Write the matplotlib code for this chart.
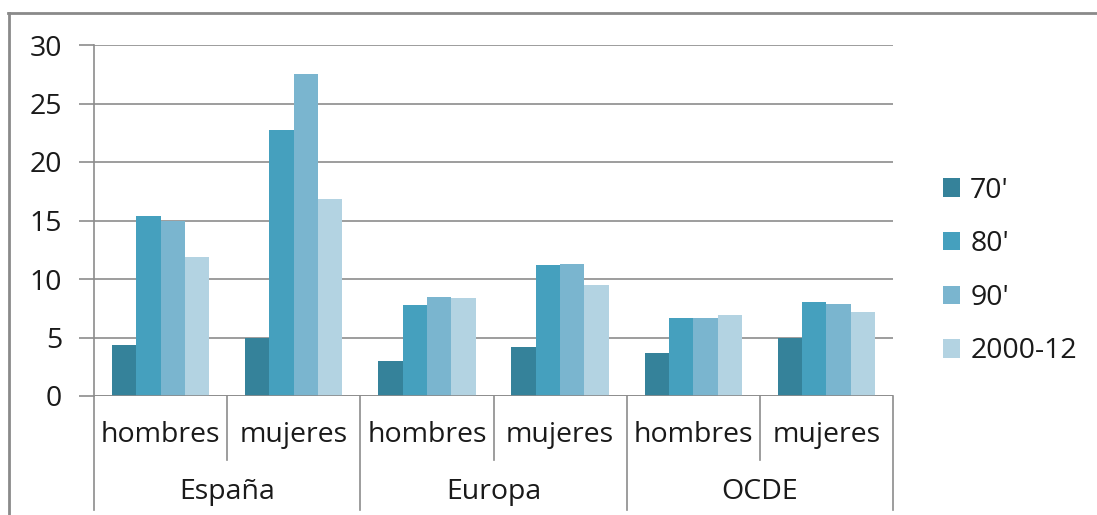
import matplotlib
matplotlib.use("Agg")
from matplotlib import pyplot as plt
from matplotlib.lines import Line2D
import matplotlib.transforms as mtransforms
import numpy as np

plt.rcParams['font.family'] = ['Open Sans', 'DejaVu Sans']

# data
grupos = ['España', 'Europa', 'OCDE']
sexos = ['hombres', 'mujeres']
series = ["70'", "80'", "90'", "2000-12"]
v70 = [4.4, 5.0, 3.0, 4.2, 3.7, 5.0]
v80 = [15.4, 22.7, 7.8, 11.2, 6.7, 8.0]
v90 = [15.0, 27.5, 8.5, 11.3, 6.7, 7.9]
v2000 = [11.9, 16.8, 8.4, 9.5, 6.9, 7.2]
colores = ['#35829a', '#45a0be', '#7ab5cf', '#b3d3e2']

W, H = 1097, 515
fs = 20.5
txt = '#1a1a1a'
fig = plt.figure(figsize=(W / 100, H / 100), dpi=100)
ax = fig.add_axes([94 / W, 1 - 396 / H, (893 - 94) / W, (396 - 45) / H])

x = np.arange(len(v70))
w = 0.183
for i, (vals, c, lab) in enumerate(zip([v70, v80, v90, v2000], colores, series)):
    ax.bar(x + (i - 1.5) * w, vals, w, color=c, label=lab, zorder=3)

ax.set_xlim(-0.5, len(x) - 0.5)
ax.set_ylim(0, 30)
ax.set_yticks(range(0, 31, 5))
ax.yaxis.grid(True, color='#8c8c8c', linewidth=1.2, zorder=0)
ax.tick_params(axis='y', length=11, width=1.2, color='#8c8c8c', labelsize=fs,
               labelcolor=txt, pad=12)
ax.set_xticks([])
for s in ['top', 'right', 'bottom']:
    ax.spines[s].set_visible(False)
ax.spines['left'].set_color('#8c8c8c')
ax.spines['left'].set_linewidth(1.2)
ax.axhline(0, color='#8c8c8c', linewidth=1.2, zorder=4)

# two-level category axis
tr = mtransforms.blended_transform_factory(ax.transData, ax.transAxes)
for k in range(len(x) + 1):
    xb = k - 0.5
    bottom = -0.325 if k % 2 == 0 else -0.182
    ax.add_line(Line2D([xb, xb], [0, bottom], transform=tr, color='#8c8c8c',
                       linewidth=1.2, clip_on=False))
for k in range(len(x)):
    ax.text(k, -0.111, sexos[k % 2], transform=tr, ha='center', va='center',
            fontsize=fs, color=txt)
for g, nombre in enumerate(grupos):
    ax.text(2 * g + 0.5, -0.274, nombre, transform=tr, ha='center', va='center',
            fontsize=fs, color=txt)

leg = ax.legend(loc='center left', bbox_to_anchor=(1.03, 0.356), frameon=False,
                fontsize=fs, handlelength=0.62, handleheight=0.62,
                handletextpad=0.35, labelspacing=0.9)
for t in leg.get_texts():
    t.set_color(txt)

# outer frame (top and left only visible)
fig.add_artist(Line2D([8 / W, 1], [1 - 13 / H, 1 - 13 / H], transform=fig.transFigure,
                      color='#8a8a8a', linewidth=2))
fig.add_artist(Line2D([9 / W, 9 / W], [0, 1 - 13 / H], transform=fig.transFigure,
                      color='#8a8a8a', linewidth=2))

fig.savefig('out.png', dpi=100)
